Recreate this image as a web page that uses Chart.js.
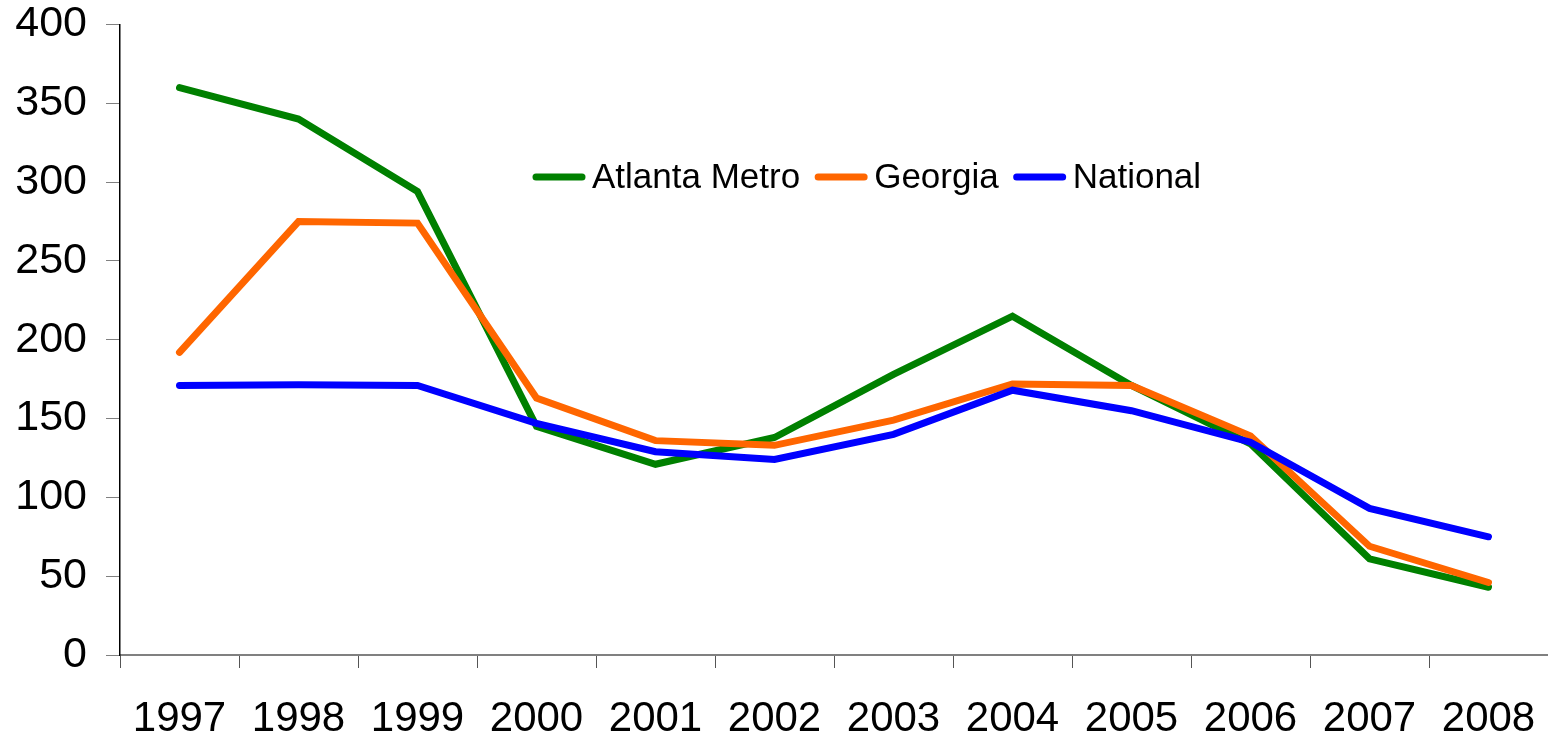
<!DOCTYPE html>
<html>
<head>
<meta charset="utf-8">
<script src="https://cdn.jsdelivr.net/npm/chart.js@4.4.1/dist/chart.umd.min.js"></script>
<style>
  html, body { margin: 0; padding: 0; background: #fff; }
  #wrap { width: 1548px; height: 737px; }
</style>
</head>
<body>
<div id="wrap"><canvas id="rateChart" width="1548" height="737"></canvas></div>
<script>
const years = ['1997', '1998', '1999', '2000', '2001', '2002', '2003', '2004', '2005', '2006', '2007', '2008'];
const atlantaMetro = [360, 340, 294, 145, 121, 138, 178, 215, 171, 134, 61, 43];
const georgia = [192, 275, 274, 163, 136, 133, 149, 172, 171, 139, 69, 46];
const national = [171, 171.5, 171, 147, 129, 124, 140, 168, 155, 135, 93, 75];
const yTicks = [0, 50, 100, 150, 200, 250, 300, 350, 400];

const FONT = '"Liberation Sans", Arial, sans-serif';

// legend drawn inline inside the plot, one row
const inlineLegend = {
  id: 'inlineLegend',
  afterDatasetsDraw(chart) {
    const ctx = chart.ctx;
    const startX = 533, midY = 177;
    const lineLen = 52, textGap = 7, itemGap = 15;
    ctx.save();
    ctx.font = '35px ' + FONT;
    ctx.textBaseline = 'middle';
    ctx.textAlign = 'left';
    let x = startX;
    chart.data.datasets.forEach(ds => {
      ctx.strokeStyle = ds.borderColor;
      ctx.lineWidth = 7;
      ctx.lineCap = 'round';
      ctx.beginPath();
      ctx.moveTo(x + 3, midY);
      ctx.lineTo(x + lineLen - 3, midY);
      ctx.stroke();
      x += lineLen + textGap;
      ctx.fillStyle = '#000';
      ctx.fillText(ds.label, x, midY + 1);
      x += ctx.measureText(ds.label).width + itemGap;
    });
    ctx.restore();
  }
};

new Chart(document.getElementById('rateChart'), {
  type: 'line',
  data: {
    labels: years,
    datasets: [
      { label: 'Atlanta Metro', data: atlantaMetro, borderColor: '#008000', order: 2 },
      { label: 'Georgia', data: georgia, borderColor: '#FF6600', order: 1 },
      { label: 'National', data: national, borderColor: '#0000FF', order: 0 }
    ]
  },
  options: {
    responsive: false,
    animation: false,
    layout: { padding: { top: 24.5, right: 0, left: 0, bottom: 0 } },
    elements: {
      line: { borderWidth: 7, tension: 0, borderCapStyle: 'round', fill: false },
      point: { radius: 0, hoverRadius: 0 }
    },
    plugins: {
      legend: { display: false },
      tooltip: { enabled: false }
    },
    scales: {
      x: {
        offset: true,
        grid: {
          offset: true,
          drawOnChartArea: false,
          color: '#555',
          tickLength: 13
        },
        border: { color: '#808080', width: 2 },
        ticks: {
          color: '#000',
          font: { family: FONT, size: 42, lineHeight: 1.2 },
          padding: 26,
          maxRotation: 0,
          autoSkip: false
        },
        afterFit(scale) {
          scale.height = 82;
          scale.paddingLeft = 0;
          scale.paddingRight = 0;
        }
      },
      y: {
        min: 0,
        max: 400,
        afterBuildTicks(scale) { scale.ticks = yTicks.map(v => ({ value: v })); },
        grid: {
          drawOnChartArea: false,
          color: '#808080',
          tickLength: 14
        },
        border: { color: '#000', width: 1.5 },
        ticks: {
          color: '#000',
          font: { family: FONT, size: 43, lineHeight: 1 },
          padding: 19
        },
        afterFit(scale) {
          scale.width = 120;
          scale.paddingTop = 0;
          scale.paddingBottom = 0;
        }
      }
    }
  },
  plugins: [inlineLegend]
});
</script>
</body>
</html>
